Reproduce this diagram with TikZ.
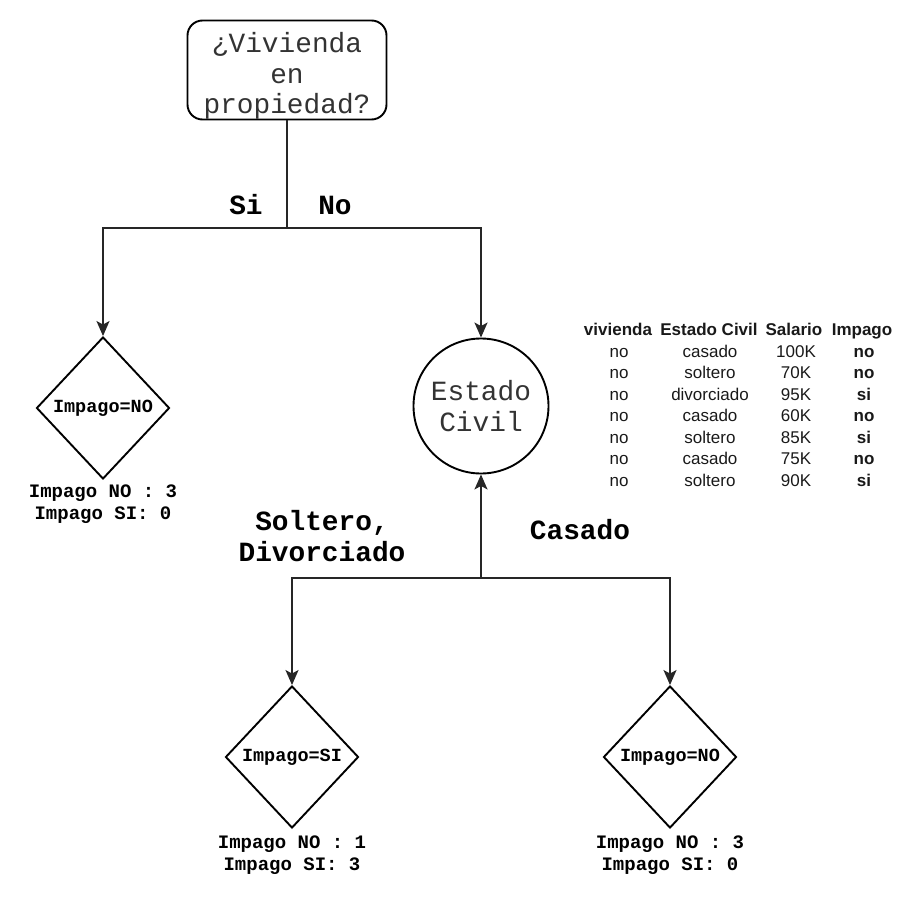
\documentclass[tikz,border=0pt]{standalone}
\usepackage{fontspec}
\setmainfont{Liberation Sans}
\newfontfamily\monof{Liberation Mono}
\usetikzlibrary{shapes.geometric,arrows.meta}
\tikzset{
  conn/.style={line width=1.9pt, draw=black!85},
  arr/.style={conn, -{Stealth[length=15pt,width=13pt,inset=3.5pt]}},
  rootbox/.style={draw, line width=1.9pt, rounded corners=15pt, minimum width=199pt, minimum height=99pt, inner sep=0pt, font=\monof\fontsize{27.8}{30.5}\selectfont, text=black!80},
  ecirc/.style={draw, circle, line width=1.9pt, minimum size=135pt, inner sep=0pt, align=center, font=\monof\fontsize{27.8}{31}\selectfont, text=black!80},
  leaf/.style={draw, diamond, line width=1.9pt, minimum width=133pt, minimum height=142pt, inner sep=0pt, font=\monof\bfseries\fontsize{18.5}{20}\selectfont},
  branch/.style={font=\monof\bfseries\fontsize{27.8}{31}\selectfont, align=center},
  count/.style={font=\monof\bfseries\fontsize{19}{22}\selectfont, align=center},
  tcell/.style={font=\fontsize{17}{20}\selectfont, inner sep=0pt, anchor=base, text=black!90},
  thead/.style={tcell, font=\bfseries\fontsize{17}{20}\selectfont},
}
\begin{document}
\begin{tikzpicture}[x=1pt,y=-1pt]
\useasboundingbox (0,0) rectangle (919,899);
% nodes
\node[rootbox] (root) at (287,70) {\raisebox{-7pt}[\height][\depth]{\begin{tabular}{@{}c@{}}¿Vivienda\\en\\propiedad?\end{tabular}}};
\node[leaf] (d1) at (103,408) {Impago=NO};
\node[ecirc] (ec) at (481,406) {Estado\\Civil};
\node[leaf] (d2) at (292,757) {Impago=SI};
\node[leaf] (d3) at (670,757) {Impago=NO};
% junctions
\coordinate (j1) at (287,228);
\coordinate (j2) at (481,578);
% connectors
\draw[conn] (root.south) -- (j1);
\draw[arr] (j1) -| (d1.north);
\draw[arr] (j1) -| (ec.north);
\draw[arr] (j2) -- (ec.south);
\draw[arr] (j2) -| (d2.north);
\draw[arr] (j2) -| (d3.north);
% branch labels
\node[branch] (lsi) at (246,205) {Si};
\node[branch] (lno) at (335,205) {No};
\node[branch] (lsd) at (322,536) {Soltero,\\Divorciado};
\node[branch] (lca) at (580,530) {Casado};
% counts
\node[count] (c1) at (103,504) {Impago NO : 3\\Impago SI: 0};
\node[count] (c2) at (292,855) {Impago NO : 1\\Impago SI: 3};
\node[count] (c3) at (670,855) {Impago NO : 3\\Impago SI: 0};
% table
\node[thead] (h1) at (618,335) {vivienda};
\node[thead] (h2) at (709,335) {Estado Civil};
\node[thead] (h3) at (794,335) {Salario};
\node[thead] (h4) at (862,335) {Impago};
\foreach \y/\b/\c/\d [count=\i] in {357/casado/100K/no, 378/soltero/70K/no, 400/divorciado/95K/si, 421/casado/60K/no, 443/soltero/85K/si, 464/casado/75K/no, 486/soltero/90K/si}{
  \node[tcell] (r\i a) at (619,\y) {no};
  \node[tcell] (r\i b) at (710,\y) {\b};
  \node[tcell] (r\i c) at (796,\y) {\c};
  \node[thead] (r\i d) at (864,\y) {\d};
}
\end{tikzpicture}
\end{document}
